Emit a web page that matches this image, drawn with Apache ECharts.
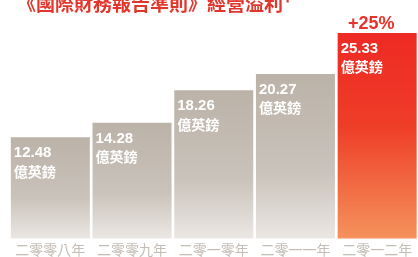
<!DOCTYPE html>
<html>
<head>
<meta charset="utf-8">
<script src="https://cdn.jsdelivr.net/npm/echarts@6/dist/echarts.min.js"></script>
<style>
  html, body { margin: 0; padding: 0; background: #fff; }
  #chart { width: 418px; height: 257px; }
</style>
</head>
<body>
<div id="chart"></div>
<script>
const years = ['二零零八年', '二零零九年', '二零一零年', '二零一一年', '二零一二年']
const profits = [12.48, 14.28, 18.26, 20.27, 25.33]
const unit = '億英鎊'
const growthLabel = '+25%'

const chart = echarts.init(document.getElementById('chart'))

const greyFill = new echarts.graphic.LinearGradient(0, 0, 0, 1, [
  { offset: 0, color: '#bbb2a8' },
  { offset: 0.6, color: '#cac3bb' },
  { offset: 1, color: '#ebe7e3' },
])
const redFill = new echarts.graphic.LinearGradient(0, 0, 0, 1, [
  { offset: 0, color: '#ee2a24' },
  { offset: 0.45, color: '#ee3d27' },
  { offset: 1, color: '#f5925c' },
])

chart.setOption({
  animation: false,
  title: [
    {
      text: '《國際財務報告準則》經營溢利¹',
      left: 12,
      top: -11,
      textStyle: { color: '#e2362c', fontSize: 19, fontWeight: 'bold', fontFamily: 'Noto Sans CJK TC' },
    },
    {
      text: growthLabel,
      left: 343,
      top: 10,
      textStyle: { color: '#e8332a', fontSize: 18, fontWeight: 'bold', fontFamily: 'Liberation Sans' },
    },
  ],
  grid: { left: 9.5, width: 412.5, top: 33, bottom: 18.5 },
  xAxis: {
    type: 'category',
    data: years,
    axisLine: { show: false },
    axisTick: { show: false },
    axisLabel: {
      interval: 0,
      color: '#c4bdb5',
      fontSize: 14,
      margin: 4,
      fontFamily: 'Noto Sans CJK TC',
    },
  },
  yAxis: {
    type: 'value',
    min: 0,
    max: 25.33,
    show: false,
    splitLine: { show: false },
  },
  series: [{
    type: 'bar',
    barWidth: 79,
    data: profits.map((value, index) => ({
      value,
      itemStyle: { color: index === profits.length - 1 ? redFill : greyFill },
    })),
    label: {
      show: true,
      position: 'insideTopLeft',
      distance: 0,
      offset: [3, 7],
      formatter: (p) => `{v|${p.value.toFixed(2)}}\n{u|${unit}}`,
      rich: {
        v: { color: '#fff', fontSize: 15, fontWeight: 'bold', fontFamily: 'Liberation Sans', lineHeight: 18 },
        u: { color: '#fff', fontSize: 14, fontWeight: 'bold', fontFamily: 'Noto Sans CJK TC', lineHeight: 18 },
      },
    },
  }],
})
</script>
</body>
</html>
